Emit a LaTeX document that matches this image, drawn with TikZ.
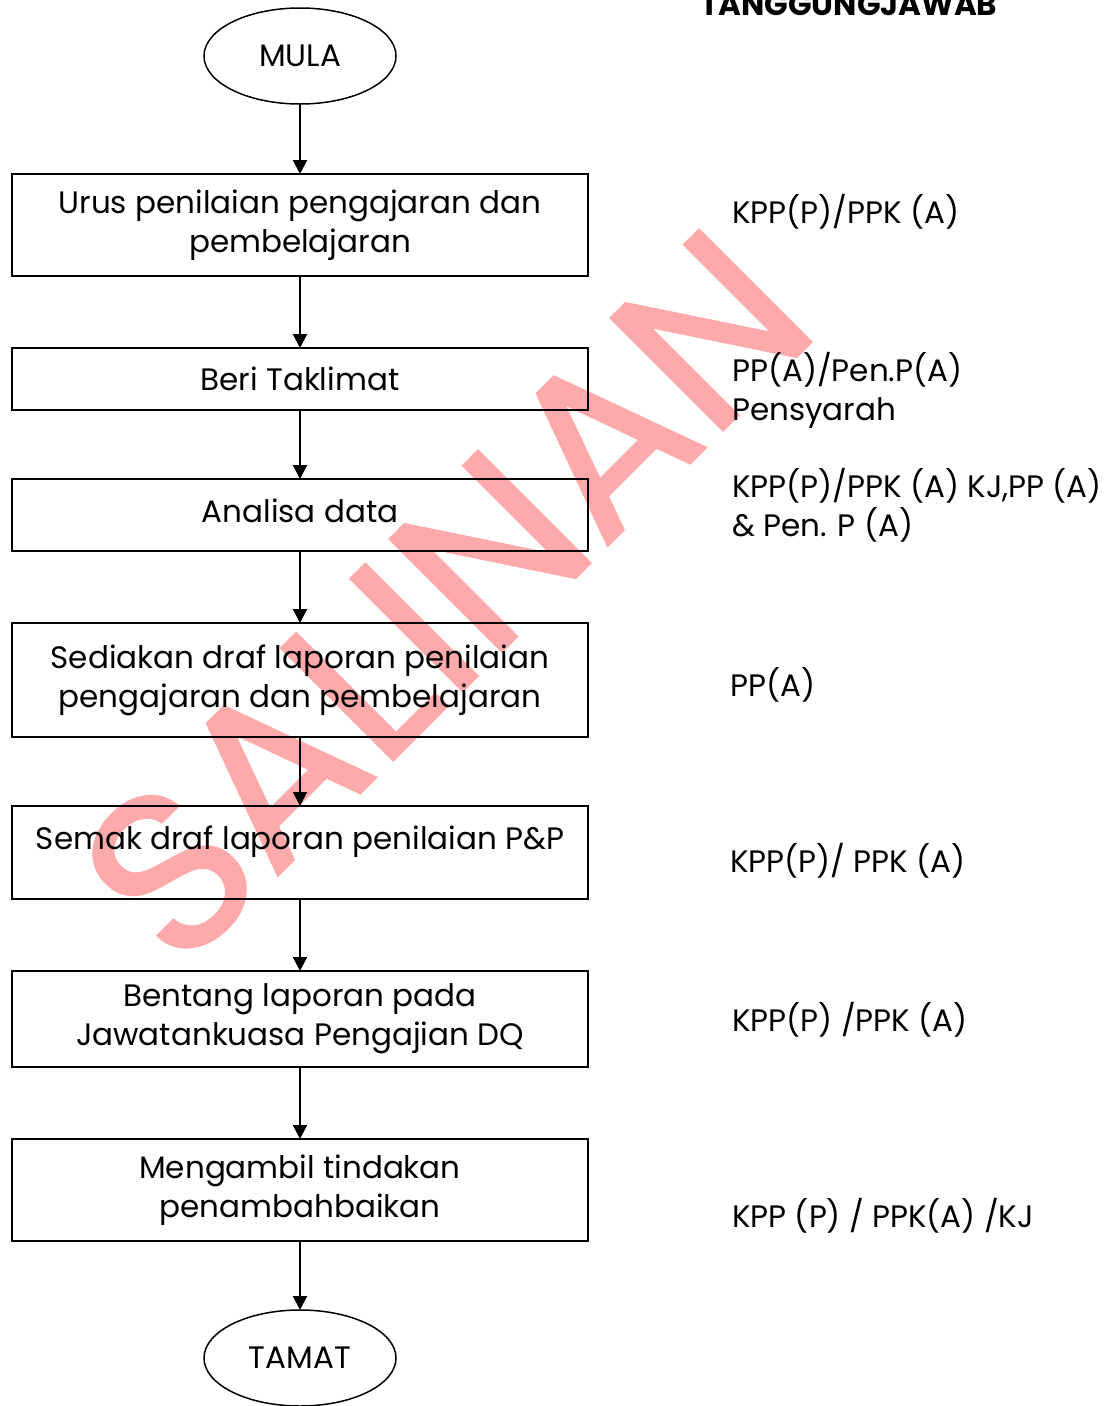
\documentclass[tikz,border=0pt]{standalone}
\usepackage{fontspec}
\setmainfont{Poppins}
\newfontfamily\wmfont[FakeBold=1.2]{Poppins}
\usetikzlibrary{arrows.meta,shapes,positioning}
\definecolor{salinan}{RGB}{255,170,170}

\begin{document}
\begin{tikzpicture}[
    x=1pt, y=1pt,
    font=\fontsize{31}{39}\selectfont,
    box/.style={rectangle, draw, line width=2pt, minimum width=576pt, align=center, inner sep=0pt, outer sep=0pt},
    term/.style={ellipse, draw, line width=1.5pt, minimum width=192pt, minimum height=96pt, inner sep=0pt, outer sep=0pt},
    resp/.style={anchor=base west, align=left, inner sep=0pt},
    flow/.style={-{Triangle[length=14pt,width=14pt]}, line width=2pt}
]
\useasboundingbox (0,-1406) rectangle (1116,0);

% Watermark
\coordinate (wmc) at (445,-596);
\node[text=salinan, rotate=45, inner sep=0pt, font=\fontsize{227}{227}\wmfont] (wm) at (wmc) {SALINAN};

% Flow
\node[term] (mula) at (300,-56) {MULA};
\node[box, minimum height=102pt, below=70pt of mula] (urus) {Urus penilaian pengajaran dan\\pembelajaran};
\node[box, minimum height=62pt, below=72pt of urus] (taklimat) {Beri Taklimat};
\node[box, minimum height=72pt, text depth=8pt, below=69pt of taklimat] (analisa) {Analisa data};
\node[box, minimum height=114pt, below=72pt of analisa] (draf) {Sediakan draf laporan penilaian\\pengajaran dan pembelajaran};
\node[box, minimum height=93pt, below=69pt of draf] (semak) {Semak draf laporan penilaian P\&P\\[-10pt]\mbox{}};
\node[box, minimum height=96pt, below=72pt of semak] (bentang) {Bentang laporan pada\\Jawatankuasa Pengajian DQ};
\node[box, minimum height=102pt, below=72pt of bentang] (tindakan) {Mengambil tindakan\\penambahbaikan};
\node[term, below=69pt of tindakan] (tamat) {TAMAT};

% Arrows
\draw[flow] (mula) -- (urus);
\draw[flow] (urus) -- (taklimat);
\draw[flow] (taklimat) -- (analisa);
\draw[flow] (analisa) -- (draf);
\draw[flow] (draf) -- (semak);
\draw[flow] (semak) -- (bentang);
\draw[flow] (bentang) -- (tindakan);
\draw[flow] (tindakan) -- (tamat);

% Tanggungjawab
\node[resp, font=\fontsize{31}{39}\selectfont\bfseries] (tj) at (700,-15) {TANGGUNGJAWAB};
\node[resp] (r1) at (732,-223) {KPP(P)/PPK (A)};
\node[resp] (r2) at (732,-420) {PP(A)/Pen.P(A)\\Pensyarah};
\node[resp] (r3) at (732,-536) {KPP(P)/PPK (A) KJ,PP (A)\\\& Pen. P (A)};
\node[resp] (r4) at (730,-696) {PP(A)};
\node[resp] (r5) at (730,-872) {KPP(P)/ PPK (A)};
\node[resp] (r6) at (732,-1031) {KPP(P) /PPK (A)};
\node[resp] (r7) at (732,-1227) {KPP (P) / PPK(A) /KJ};

\end{tikzpicture}
\end{document}
